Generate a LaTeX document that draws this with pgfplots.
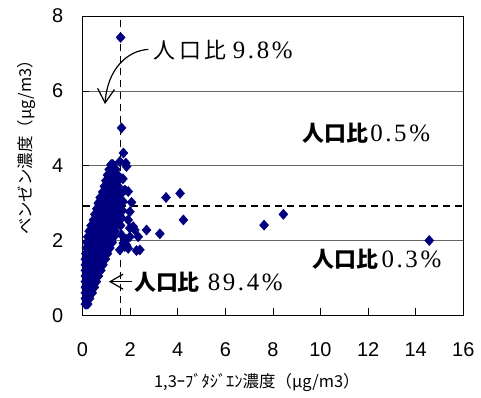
\documentclass[border=0pt]{standalone}
\usepackage{fontspec}
\usepackage{pgfplots}
\pgfplotsset{compat=1.18}
\usetikzlibrary{arrows.meta}

\newfontfamily\cjk{Noto Sans CJK JP}
\newfontfamily\tickfont{Liberation Sans}
\newfontfamily\numfont{Liberation Serif}
\definecolor{navy}{RGB}{0,0,128}

% spaced serif digits for the share labels
\newcommand\dk{\kern2.6bp}
\newcommand\numsz{\numfont\mdseries\fontsize{25}{25}\selectfont}
\newcommand\cjksz{\fontsize{22}{22}\selectfont}

\begin{document}
\begin{tikzpicture}
\begin{axis}[
  scale only axis,
  width=380.8bp, height=299.2bp,
  xmin=0, xmax=16, ymin=0, ymax=8,
  xtick={0,2,...,16}, ytick={0,2,...,8},
  tick align=inside,
  xtick pos=bottom, ytick pos=left,
  major tick length=7bp,
  tick style={black, line width=0.8bp},
  axis line style={black, line width=1.2bp},
  ymajorgrids,
  grid style={black!60, line width=0.8bp},
  /pgf/number format/assume math mode=true,
  ticklabel style={font=\tickfont\fontsize{20}{20}\selectfont},
  xticklabel style={yshift=-24bp},
  yticklabel style={xshift=-15.8bp},
  xlabel={\cjk\fontsize{16.5}{16.5}\selectfont 1,3ｰﾌﾞﾀｼﾞｴﾝ濃度（μg/m3）},
  ylabel={\cjk\fontsize{16.5}{16.5}\selectfont ベンゼン濃度（μg/m3）},
  every axis x label/.style={at={(axis description cs:0.458,-0.223)}, anchor=center},
  every axis y label/.style={at={(axis description cs:-0.1457,0.574)}, rotate=90, anchor=center},
  clip=false,
]

% measured pairs: 1,3-butadiene vs benzene
\addplot[only marks, mark=diamond*, mark size=5.1bp,
  mark options={fill=navy, draw=navy, line width=0.4bp, xscale=1.18}]
coordinates {
 (0.12,0.30) (0.17,0.30) (0.22,0.30)
 (0.12,0.45) (0.21,0.45) (0.30,0.45)
 (0.12,0.60) (0.265,0.60) (0.41,0.60)
 (0.12,0.75) (0.22,0.75) (0.41,0.75) (0.50,0.75)
 (0.12,0.90) (0.27,0.90) (0.43,0.90) (0.58,0.90)
 (0.12,1.05) (0.21,1.05) (0.39,1.05) (0.58,1.05) (0.67,1.05)
 (0.12,1.20) (0.28,1.20) (0.45,1.20) (0.61,1.20) (0.77,1.20)
 (0.12,1.35) (0.21,1.35) (0.40,1.35) (0.58,1.35) (0.77,1.35) (0.86,1.35)
 (0.12,1.50) (0.29,1.50) (0.46,1.50) (0.62,1.50) (0.79,1.50) (0.96,1.50)
 (0.14,1.65) (0.23,1.65) (0.41,1.65) (0.59,1.65) (0.78,1.65) (0.96,1.65) (1.05,1.65)
 (0.16,1.80) (0.36,1.80) (0.56,1.80) (0.75,1.80) (0.95,1.80) (1.15,1.80)
 (0.18,1.95) (0.27,1.95) (0.45,1.95) (0.63,1.95) (0.80,1.95) (0.98,1.95) (1.16,1.95) (1.25,1.95)
 (0.22,2.10) (0.40,2.10) (0.59,2.10) (0.77,2.10) (0.95,2.10) (1.14,2.10) (1.32,2.10)
 (0.28,2.25) (0.37,2.25) (0.55,2.25) (0.73,2.25) (0.92,2.25) (1.10,2.25) (1.28,2.25) (1.37,2.25)
 (0.36,2.40) (0.54,2.40) (0.71,2.40) (0.89,2.40) (1.06,2.40) (1.24,2.40) (1.41,2.40)
 (0.46,2.55) (0.56,2.55) (0.76,2.55) (0.95,2.55) (1.15,2.55) (1.35,2.55) (1.45,2.55)
 (0.52,2.70) (0.72,2.70) (0.91,2.70) (1.11,2.70) (1.30,2.70) (1.50,2.70)
 (0.60,2.85) (0.69,2.85) (0.87,2.85) (1.05,2.85) (1.23,2.85) (1.41,2.85) (1.50,2.85)
 (0.66,3.00) (0.83,3.00) (1.00,3.00) (1.16,3.00) (1.33,3.00) (1.50,3.00)
 (0.74,3.15) (0.84,3.15) (1.03,3.15) (1.22,3.15) (1.41,3.15) (1.50,3.15)
 (0.85,3.30) (1.01,3.30) (1.18,3.30) (1.34,3.30) (1.50,3.30)
 (0.92,3.45) (1.02,3.45) (1.21,3.45) (1.40,3.45) (1.50,3.45)
 (0.98,3.60) (1.15,3.60) (1.33,3.60) (1.50,3.60)
 (1.05,3.75) (1.12,3.75) (1.26,3.75) (1.41,3.75) (1.48,3.75)
 (1.12,3.90) (1.26,3.90) (1.40,3.90)
 (1.20,4.03) (1.24,4.03) (1.28,4.03)
 (1.60,7.43) (1.64,5.01) (1.72,4.34) (1.82,4.07) (1.57,4.11) (1.85,3.98)
 (1.92,3.31) (1.78,3.35) (2.06,3.02) (1.71,3.04) (1.99,2.77) (1.92,2.55)
 (2.20,2.28) (2.34,2.10) (2.69,2.28) (3.25,2.18) (3.51,3.15) (4.10,3.26)
 (4.24,2.55) (2.27,1.73) (1.92,1.79) (7.63,2.41) (8.44,2.70) (14.57,2.00)
 (1.85,2.02) (1.78,1.84) (2.13,2.37) (1.99,2.10) (1.71,1.93) (1.64,2.15)
 (1.57,1.75) (1.85,1.88) (2.41,1.75) (1.99,2.33) (1.65,2.60) (1.70,3.65)
 (1.62,3.25) (1.68,2.80) (1.60,2.40)
};

% reference thresholds
\draw[black, line width=1.7bp, dash pattern=on 7bp off 5bp]
  (axis cs:1.6,0) -- (axis cs:1.6,8);
\draw[black, line width=1.7bp, dash pattern=on 7bp off 5bp]
  (axis cs:0,2.92) -- (axis cs:16,2.92);

% population share annotations
\node[anchor=west, inner sep=0pt] at (axis cs:2.96,7.09)
  {\cjk\cjksz 人\kern4bp 口\kern4bp 比\kern6bp{\numsz 9\dk.\dk8\dk\%}};
\draw[line width=1.2bp, -{Straight Barb[length=14bp,width=17bp]}]
  (axis cs:2.77,7.11) .. controls (axis cs:1.9,7.08) and (axis cs:1.05,6.6) .. (axis cs:0.945,5.65);

\node[anchor=west, inner sep=0pt] at (axis cs:9.24,4.87)
  {\cjk\bfseries\cjksz 人口比{\numsz\kern2bp 0\dk.\dk5\dk\%}};

\node[anchor=west, inner sep=0pt] at (axis cs:9.67,1.51)
  {\cjk\bfseries\cjksz 人口比{\numsz\kern3bp 0\dk.\dk3\dk\%}};

\node[anchor=west, inner sep=0pt] at (axis cs:2.16,0.88)
  {\cjk\bfseries\cjksz 人口比{\numsz\kern8bp 8\dk9\dk.\dk4\dk\%}};
\draw[line width=1.2bp, -{Straight Barb[length=13bp,width=15bp]}]
  (axis cs:2.07,0.9) -- (axis cs:1.11,0.9);

\end{axis}
\pgfresetboundingbox
\path[use as bounding box] (-82.5bp,-82.7bp) rectangle (398.5bp,315.3bp);
\end{tikzpicture}
\end{document}
